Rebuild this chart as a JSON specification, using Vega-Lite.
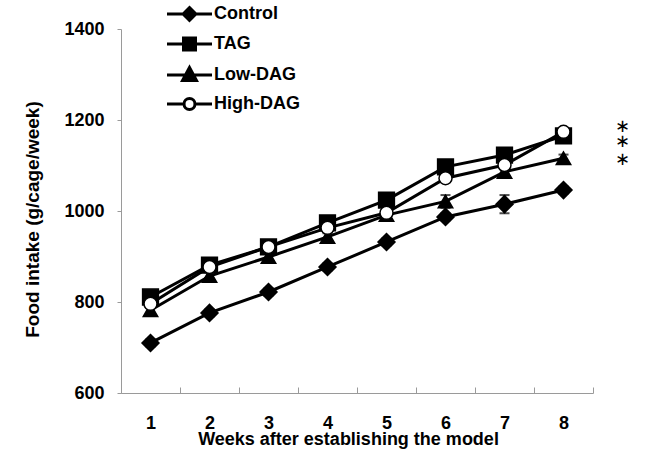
{
  "$schema": "https://vega.github.io/schema/vega-lite/v6.json",
  "width": 472,
  "height": 364,
  "autosize": {"type": "none"},
  "padding": {"left": 121, "top": 29, "right": 76, "bottom": 64},
  "background": "white",
  "config": {
    "view": {"stroke": null},
    "font": "Liberation Sans",
    "axis": {
      "labelFont": "Liberation Sans", "labelFontWeight": "bold", "labelFontSize": 18, "labelColor": "black",
      "titleFont": "Liberation Sans", "titleFontWeight": "bold", "titleFontSize": 18, "titleColor": "black",
      "domainColor": "#9a9a9a", "tickColor": "#9a9a9a", "grid": false
    }
  },
  "datasets": {
    "main": [
      {"group": "Control", "week": 1, "value": 710, "err": 8},
      {"group": "Control", "week": 2, "value": 776, "err": 8},
      {"group": "Control", "week": 3, "value": 822, "err": 8},
      {"group": "Control", "week": 4, "value": 877, "err": 8},
      {"group": "Control", "week": 5, "value": 932, "err": 8},
      {"group": "Control", "week": 6, "value": 987, "err": 8},
      {"group": "Control", "week": 7, "value": 1015, "err": 20},
      {"group": "Control", "week": 8, "value": 1046, "err": 8},
      {"group": "TAG", "week": 1, "value": 811, "err": 8},
      {"group": "TAG", "week": 2, "value": 881, "err": 8},
      {"group": "TAG", "week": 3, "value": 921, "err": 8},
      {"group": "TAG", "week": 4, "value": 974, "err": 8},
      {"group": "TAG", "week": 5, "value": 1024, "err": 8},
      {"group": "TAG", "week": 6, "value": 1097, "err": 8},
      {"group": "TAG", "week": 7, "value": 1123, "err": 8},
      {"group": "TAG", "week": 8, "value": 1165, "err": 8},
      {"group": "Low-DAG", "week": 1, "value": 782, "err": 8},
      {"group": "Low-DAG", "week": 2, "value": 857, "err": 8},
      {"group": "Low-DAG", "week": 3, "value": 899, "err": 8},
      {"group": "Low-DAG", "week": 4, "value": 943, "err": 8},
      {"group": "Low-DAG", "week": 5, "value": 991, "err": 8},
      {"group": "Low-DAG", "week": 6, "value": 1021, "err": 14},
      {"group": "Low-DAG", "week": 7, "value": 1086, "err": 8},
      {"group": "Low-DAG", "week": 8, "value": 1116, "err": 8},
      {"group": "High-DAG", "week": 1, "value": 796, "err": 8},
      {"group": "High-DAG", "week": 2, "value": 877, "err": 8},
      {"group": "High-DAG", "week": 3, "value": 921, "err": 8},
      {"group": "High-DAG", "week": 4, "value": 963, "err": 8},
      {"group": "High-DAG", "week": 5, "value": 996, "err": 8},
      {"group": "High-DAG", "week": 6, "value": 1072, "err": 8},
      {"group": "High-DAG", "week": 7, "value": 1101, "err": 8},
      {"group": "High-DAG", "week": 8, "value": 1174, "err": 8}
    ],
    "sig": [
      {"week": 8, "value": 1185, "label": "∗"},
      {"week": 8, "value": 1152, "label": "∗"},
      {"week": 8, "value": 1112, "label": "∗"}
    ]
  },
  "encoding": {
    "x": {
      "field": "week", "type": "ordinal",
      "scale": {"type": "band", "paddingInner": 0, "paddingOuter": 0, "domain": [1, 2, 3, 4, 5, 6, 7, 8]},
      "axis": {
        "title": "Weeks after establishing the model", "labelAngle": 0, "tickBand": "extent",
        "tickSize": -6, "labelPadding": 41, "labelBaseline": "alphabetic",
        "titleX": 227, "titleY": 51, "titleBaseline": "alphabetic"
      }
    },
    "y": {
      "field": "value", "type": "quantitative",
      "scale": {"domain": [600, 1400], "nice": false, "zero": false},
      "axis": {
        "title": "Food intake (g/cage/week)", "values": [600, 800, 1000, 1200, 1400], "format": "d",
        "tickSize": 4, "labelPadding": 13, "titleFontSize": 19,
        "titleX": -79, "titleY": 190
      }
    }
  },
  "layer": [
    {
      "data": {"name": "main"},
      "mark": {"type": "errorbar", "ticks": {"size": 10, "thickness": 2, "color": "black"}, "rule": {"strokeWidth": 2, "color": "black"}},
      "encoding": {"yError": {"field": "err"}, "detail": {"field": "group"}}
    },
    {
      "data": {"name": "main"},
      "mark": {"type": "line", "color": "black", "strokeWidth": 3},
      "encoding": {"detail": {"field": "group"}}
    },
    {
      "data": {"name": "main"},
      "mark": {"type": "point", "filled": true, "stroke": "black", "strokeWidth": 1.5, "opacity": 1},
      "encoding": {
        "shape": {"field": "group", "type": "nominal", "legend": null,
          "scale": {"domain": ["Control", "TAG", "Low-DAG", "High-DAG"], "range": ["diamond", "square", "triangle-up", "circle"]}},
        "fill": {"field": "group", "type": "nominal", "legend": null,
          "scale": {"domain": ["Control", "TAG", "Low-DAG", "High-DAG"], "range": ["black", "black", "black", "white"]}},
        "size": {"field": "group", "type": "nominal", "legend": null,
          "scale": {"domain": ["Control", "TAG", "Low-DAG", "High-DAG"], "range": [289, 169, 225, 150]}}
      }
    },
    {
      "data": {"name": "sig"},
      "mark": {"type": "text", "dx": 59, "font": "DejaVu Sans", "fontSize": 18, "color": "black", "baseline": "middle"},
      "encoding": {"text": {"field": "label"}}
    },
    {
      "data": {"name": "main"},
      "transform": [{"filter": "false"}],
      "mark": {"type": "point", "filled": true, "stroke": "black", "strokeWidth": 3, "size": 225, "opacity": 1},
      "encoding": {
        "shape": {"field": "group", "type": "nominal",
          "scale": {"domain": ["Control", "TAG", "Low-DAG", "High-DAG"],
            "range": [
              "M-3,0L3,0M0,-0.85L0.85,0L0,0.85L-0.85,0Z",
              "M-3,0L3,0M-0.8,-0.8L0.8,-0.8L0.8,0.8L-0.8,0.8Z",
              "M-3,0L3,0M0,-1L0.93,0.72L-0.93,0.72Z",
              "M-3,0L-0.73,0M0.73,0L3,0M0.73,0A0.73,0.73 0 1,1 -0.73,0A0.73,0.73 0 1,1 0.73,0Z"
            ]},
          "legend": {"orient": "none", "legendX": 59.5, "legendY": -24, "title": null, "padding": 0,
            "rowPadding": 5, "labelOffset": 15.5, "labelFont": "Liberation Sans", "labelFontSize": 18,
            "labelFontWeight": "bold", "labelColor": "black", "symbolSize": 225, "symbolStrokeWidth": 3,
            "symbolStrokeColor": "black", "symbolOpacity": 1,
            "encode": {"symbols": {"update": {"stroke": {"value": "black"}, "strokeWidth": {"value": 3}, "opacity": {"value": 1}}}}}},
        "fill": {"field": "group", "type": "nominal",
          "scale": {"domain": ["Control", "TAG", "Low-DAG", "High-DAG"], "range": ["black", "black", "black", "white"]},
          "legend": {"orient": "none", "legendX": 59.5, "legendY": -24, "title": null, "padding": 0,
            "rowPadding": 5, "labelOffset": 15.5, "labelFont": "Liberation Sans", "labelFontSize": 18,
            "labelFontWeight": "bold", "labelColor": "black", "symbolSize": 225, "symbolStrokeWidth": 3,
            "symbolStrokeColor": "black", "symbolOpacity": 1,
            "encode": {"symbols": {"update": {"stroke": {"value": "black"}, "strokeWidth": {"value": 3}, "opacity": {"value": 1}}}}}}
      }
    }
  ],
  "resolve": {
    "scale": {"shape": "independent", "fill": "independent", "size": "independent"},
    "legend": {"shape": "independent", "fill": "independent"}
  }
}
